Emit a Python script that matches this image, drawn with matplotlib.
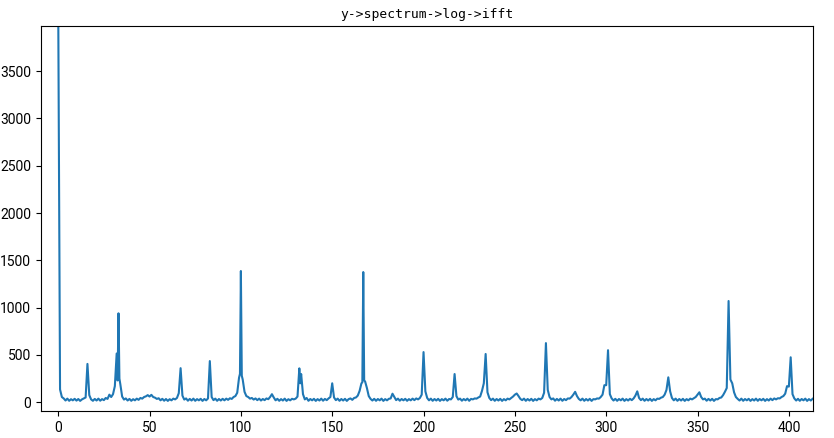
import matplotlib
matplotlib.use("Agg")
import matplotlib.pyplot as plt
import numpy as np

# cepstrum magnitude at integer quefrency 0..413
cep_0_99 = [4200, 135, 55, 40, 18, 38, 15, 32, 20, 36,
            17, 34, 14, 30, 40, 50, 405, 75, 30, 15,
            35, 18, 38, 16, 33, 22, 45, 35, 80, 55,
            85, 170, 515, 940, 190, 60, 28, 40, 18, 35,
            15, 32, 20, 38, 25, 45, 38, 55, 62, 75,
            60, 78, 55, 48, 35, 42, 20, 36, 16, 34,
            14, 32, 20, 38, 30, 45, 95, 360, 70, 28,
            40, 16, 35, 18, 38, 15, 33, 20, 36, 14,
            34, 20, 40, 435, 55, 22, 38, 15, 34, 18,
            36, 20, 38, 25, 42, 35, 55, 65, 100, 260]
cep_100_199 = [1387, 240, 110, 65, 55, 38, 45, 28, 40, 22,
               38, 18, 34, 22, 40, 32, 55, 85, 50, 20,
               36, 15, 33, 18, 38, 14, 32, 20, 36, 30,
               38, 60, 358, 298, 85, 30, 45, 15, 34, 20,
               36, 14, 33, 18, 38, 16, 35, 22, 40, 55,
               200, 50, 22, 38, 15, 34, 18, 36, 14, 33,
               40, 25, 45, 50, 70, 120, 200, 1376, 220, 150,
               65, 35, 18, 36, 15, 34, 20, 38, 14, 33,
               20, 36, 40, 90, 55, 22, 38, 16, 34, 20,
               36, 15, 33, 20, 38, 22, 40, 30, 45, 80]
cep_200_299 = [530, 115, 45, 20, 38, 15, 34, 18, 36, 14,
               33, 20, 38, 16, 34, 30, 55, 298, 65, 28,
               38, 16, 34, 20, 38, 15, 35, 30, 40, 38,
               50, 60, 120, 200, 510, 105, 45, 22, 38, 15,
               34, 18, 36, 14, 33, 20, 38, 30, 45, 60,
               80, 92, 65, 35, 22, 38, 15, 34, 18, 36,
               14, 33, 20, 38, 30, 45, 100, 625, 130, 55,
               30, 40, 16, 35, 18, 38, 15, 34, 22, 40,
               38, 55, 80, 110, 65, 35, 20, 38, 15, 34,
               18, 36, 14, 33, 30, 40, 38, 55, 80, 180]
cep_300_413 = [180, 550, 85, 40, 18, 36, 15, 34, 20, 38,
               14, 33, 18, 36, 22, 40, 70, 115, 45, 22,
               38, 15, 34, 18, 36, 14, 33, 20, 38, 35,
               48, 55, 80, 130, 263, 115, 45, 20, 38, 15,
               34, 18, 36, 14, 33, 20, 38, 30, 42, 55,
               80, 105, 55, 30, 38, 16, 35, 18, 36, 14,
               33, 30, 45, 50, 75, 110, 150, 1070, 240, 200,
               105, 55, 35, 18, 38, 15, 34, 20, 36, 14,
               33, 18, 38, 15, 34, 20, 36, 14, 33, 18,
               38, 22, 40, 30, 42, 40, 55, 65, 90, 170,
               165, 475, 85, 40, 18, 36, 15, 34, 20, 38,
               14, 33, 18, 36]

# a few extra half-step readings where two spikes sit close together
extra_q = [32.5, 33.5, 99.5, 100.5, 132.5, 166.5, 167.5]
extra_v = [230, 250, 300, 280, 200, 210, 230]

cep = cep_0_99 + cep_100_199 + cep_200_299 + cep_300_413
quefrency = list(range(len(cep)))

points = sorted(zip(quefrency + extra_q, cep + extra_v))
q_all = [p[0] for p in points]
v_all = [p[1] for p in points]

title = "y->spectrum->log->ifft"

fig = plt.figure(figsize=(8.34, 4.38), dpi=100)
ax = fig.add_axes([0.049, 0.0616, 0.926, 0.879])
ax.plot(q_all, v_all, color="#1f77b4", linewidth=1.5)
ax.set_xlim(-9.5, 413.3)
ax.set_ylim(-93, 3977)
ax.set_xticks(np.arange(0, 401, 50))
ax.set_yticks(np.arange(0, 3501, 500))
for lab in ax.get_xticklabels() + ax.get_yticklabels():
    lab.set_fontfamily("Roboto")
    lab.set_fontsize(10)
ax.set_title(title, fontfamily="DejaVu Sans Mono", fontsize=9.4)
fig.savefig("out.png", dpi=100)
